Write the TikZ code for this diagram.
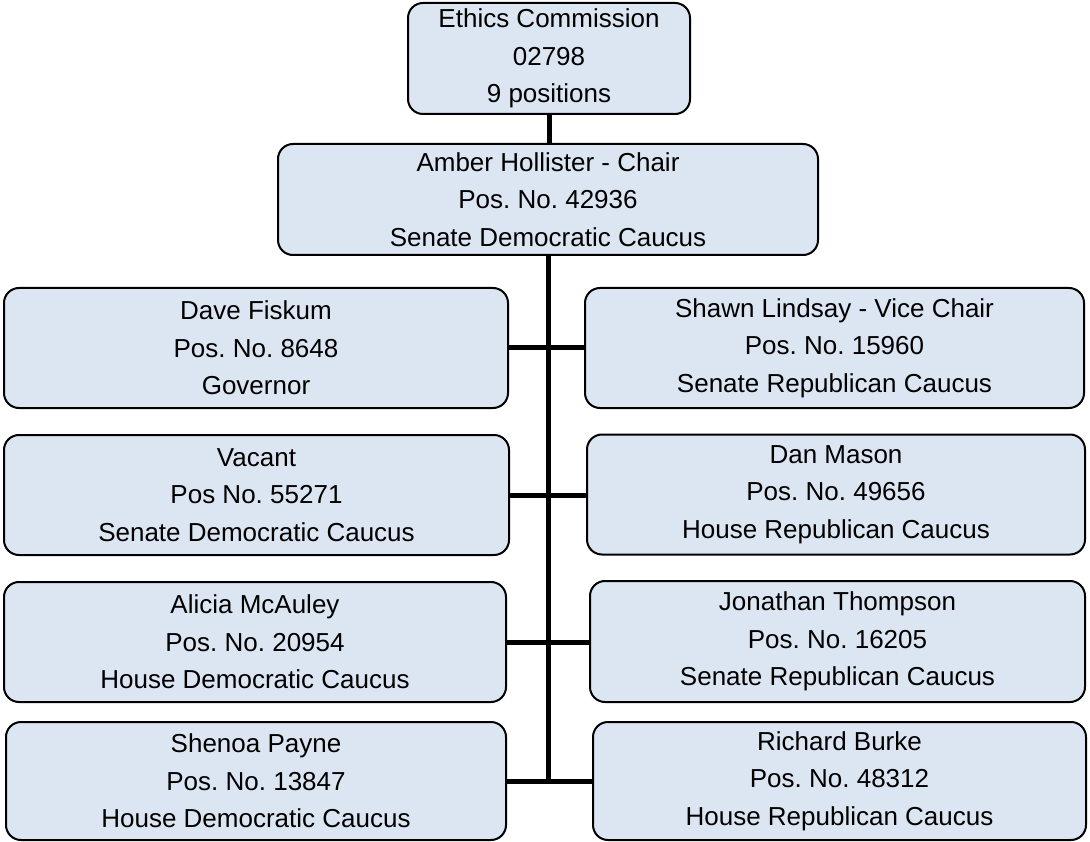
\documentclass[tikz,border=0pt]{standalone}
\usepackage{fontspec}
\setmainfont{Liberation Sans}
\frenchspacing
\definecolor{boxfill}{HTML}{DCE6F2}
\begin{document}
\begin{tikzpicture}[x=1pt,y=-1pt,
  orgbox/.style={draw=black,line width=2pt,fill=boxfill,rounded corners=15pt,
    align=center,inner sep=0pt,font=\fontsize{26}{37.5}\selectfont},
  conn/.style={draw=black,line width=5pt}]
\useasboundingbox (0,0) rectangle (1090,842);
\node[orgbox,minimum width=282,minimum height=111] (top) at (549,58.5) {Ethics Commission\\02798\\9 positions};
\node[orgbox,minimum width=540,minimum height=111] (amber) at (548,199.5) {Amber Hollister - Chair\\Pos. No. 42936\\Senate Democratic Caucus};
\node[orgbox,minimum width=504,minimum height=120] (L1) at (256,348) {Dave Fiskum\\Pos. No. 8648\\Governor};
\node[orgbox,minimum width=499,minimum height=120] (R1) at (834.5,348) {Shawn Lindsay - Vice Chair\\Pos. No. 15960\\Senate Republican Caucus};
\node[orgbox,minimum width=505,minimum height=120] (L2) at (256.5,495) {Vacant\\Pos No. 55271\\Senate Democratic Caucus};
\node[orgbox,minimum width=498,minimum height=120] (R2) at (836,494.5) {Dan Mason\\Pos. No. 49656\\House Republican Caucus};
\node[orgbox,minimum width=502,minimum height=120] (L3) at (255,642) {Alicia McAuley\\Pos. No. 20954\\House Democratic Caucus};
\node[orgbox,minimum width=495,minimum height=121] (R3) at (837.5,641.5) {Jonathan Thompson\\Pos. No. 16205\\Senate Republican Caucus};
\node[orgbox,minimum width=500,minimum height=118] (L4) at (256,781) {Shenoa Payne\\Pos. No. 13847\\House Democratic Caucus};
\node[orgbox,minimum width=493,minimum height=118] (R4) at (839.5,781) {Richard Burke\\Pos. No. 48312\\House Republican Caucus};
\coordinate (trunkend) at (548,783);
\draw[conn] (top.south) -- (top.south |- amber.north);
\draw[conn] (amber.south) -- (amber.south |- trunkend);
\draw[conn] (L1.east) -- (L1.east -| R1.west);
\draw[conn] (L2.east) -- (L2.east -| R2.west);
\draw[conn] (L3.east) -- (L3.east -| R3.west);
\draw[conn] (L4.east) -- (L4.east -| R4.west);
\end{tikzpicture}
\end{document}
